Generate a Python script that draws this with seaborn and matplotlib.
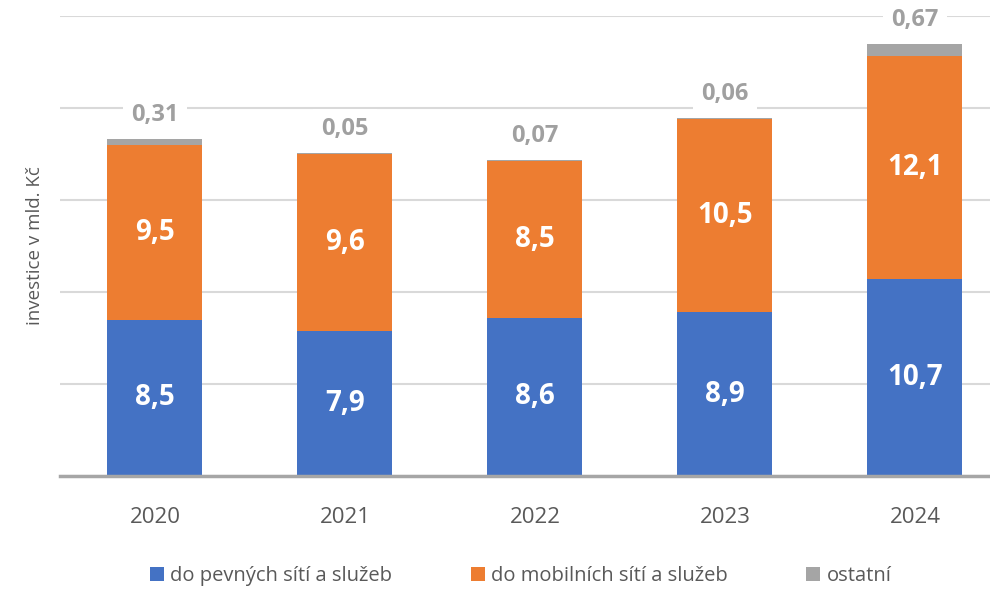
import pandas as pd
import matplotlib
matplotlib.use('Agg')
import matplotlib.pyplot as plt
import seaborn as sns

# data
roky = ['2020', '2021', '2022', '2023', '2024']
pevne = [8.5, 7.9, 8.6, 8.9, 10.7]
mobilni = [9.5, 9.6, 8.5, 10.5, 12.1]
ostatni = [0.31, 0.05, 0.07, 0.06, 0.67]

df = pd.DataFrame({'rok': roky, 'pevne': pevne, 'mobilni': mobilni, 'ostatni': ostatni})
df['spodek2'] = df['pevne']
df['spodek3'] = df['pevne'] + df['mobilni']

sns.set_style('white')
plt.rcParams['font.family'] = ['Open Sans', 'DejaVu Sans']

fig = plt.figure(figsize=(9.9, 5.89), dpi=100)
ax = fig.add_axes([0.0606, 0.1919, 0.9596, 0.781])

modra = '#4472C4'
oranz = '#ED7D31'
seda = '#A5A5A5'
sirka = 0.5

sns.barplot(data=df, x='rok', y='pevne', color=modra, width=sirka, ax=ax, linewidth=0,
            label='do pevných sítí a služeb', saturation=1, zorder=2)
sns.barplot(data=df, x='rok', y='mobilni', bottom=df['spodek2'], color=oranz, width=sirka, ax=ax,
            linewidth=0, label='do mobilních sítí a služeb', saturation=1, zorder=2)
sns.barplot(data=df, x='rok', y='ostatni', bottom=df['spodek3'], color=seda, width=sirka, ax=ax,
            linewidth=0, label='ostatní', saturation=1, zorder=2)

# popisky
for i, r in df.iterrows():
    ax.text(i, r['pevne'] / 2, f"{r['pevne']:.1f}".replace('.', ','), ha='center', va='center',
            color='white', fontsize=20, fontweight='bold', zorder=3)
    ax.text(i, r['pevne'] + r['mobilni'] / 2, f"{r['mobilni']:.1f}".replace('.', ','), ha='center',
            va='center', color='white', fontsize=20, fontweight='bold', zorder=3)
    top = r['pevne'] + r['mobilni'] + r['ostatni']
    ax.text(i, top + 1.3, f"{r['ostatni']:.2f}".replace('.', ','), ha='center', va='center',
            color='#A0A0A0', fontsize=17, fontweight='bold', zorder=3,
            bbox=dict(facecolor='white', edgecolor='none', pad=6))

ax.set_ylim(0, 25)
ax.set_xlim(-0.5, 4.5)
ax.set_yticks([0, 5, 10, 15, 20, 25])
ax.set_yticklabels([])
ax.tick_params(axis='y', length=0)
ax.tick_params(axis='x', length=0, labelsize=16, labelcolor='#595959', pad=22)
ax.grid(axis='y', color='#D9D9D9', linewidth=1.5, zorder=0)
ax.set_axisbelow(True)
for s in ['top', 'right', 'left']:
    ax.spines[s].set_visible(False)
ax.spines['bottom'].set_color('#A6A6A6')
ax.spines['bottom'].set_linewidth(2.5)
ax.set_xlabel('')
ax.set_ylabel('investice v mld. Kč', fontsize=13.5, color='#595959', labelpad=8)

ax.legend(loc='upper center', bbox_to_anchor=(0.485, -0.188), ncol=3, frameon=False,
          fontsize=14.5, labelcolor='#595959', handlelength=0.7, handleheight=0.7,
          handletextpad=0.3, columnspacing=3.9, borderaxespad=0, borderpad=0.2)

fig.savefig('out.png', dpi=100)
